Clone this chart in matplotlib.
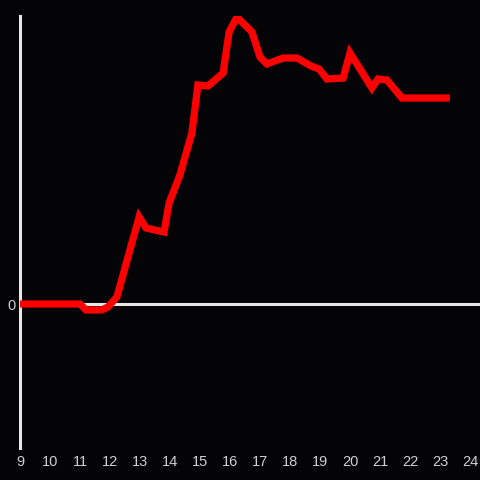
import matplotlib
matplotlib.use("Agg")
import matplotlib.pyplot as plt

# Time of day (hours) and value (arbitrary units)
hours = [9.0, 11.0, 11.2, 11.73, 11.93, 12.23, 12.97, 13.2, 13.8, 13.97, 14.33,
         14.73, 14.93, 15.27, 15.77, 15.97, 16.23, 16.73, 17.0, 17.23, 17.77,
         18.23, 18.7, 18.97, 19.23, 19.77, 20.0, 20.73, 20.93, 21.23, 21.73, 23.33]
values = [0, 0, -6, -6, -3, 7, 87, 76, 72, 101, 129,
          171, 219, 218, 231, 272, 287, 272, 247, 240, 246,
          246, 238, 235, 225, 226, 251, 216, 225, 224, 206, 206]
xticks = list(range(9, 25))
yticks = [0]

bg = "#040306"
fig = plt.figure(figsize=(4.8, 4.8), dpi=100, facecolor=bg)
ax = fig.add_axes([20/480, 32/480, 460/480, 432/480], facecolor=bg)

ax.axhline(0, color="#e6e6e6", lw=2.2, zorder=1)
ax.plot(hours, values, color="#ff0000", lw=5.2, zorder=3,
        solid_joinstyle="miter", solid_capstyle="butt")

ax.set_xlim(9, 9 + 460/30)
ax.set_ylim(-144, 288)

for s in ["top", "right", "bottom"]:
    ax.spines[s].set_visible(False)
ax.spines["left"].set_color("#e6e6e6")
ax.spines["left"].set_linewidth(2.2)

ax.set_xticks(xticks)
ax.set_xticklabels([str(t) for t in xticks])
ax.set_yticks(yticks)
ax.set_yticklabels(["0"])
ax.tick_params(axis="both", length=0, colors="#d0d0d0", labelsize=10.5)
ax.tick_params(axis="x", pad=5)
ax.tick_params(axis="y", pad=3)
for lab in ax.get_xticklabels() + ax.get_yticklabels():
    lab.set_fontfamily("Liberation Sans")

fig.savefig("out.png", dpi=100, facecolor=bg)
